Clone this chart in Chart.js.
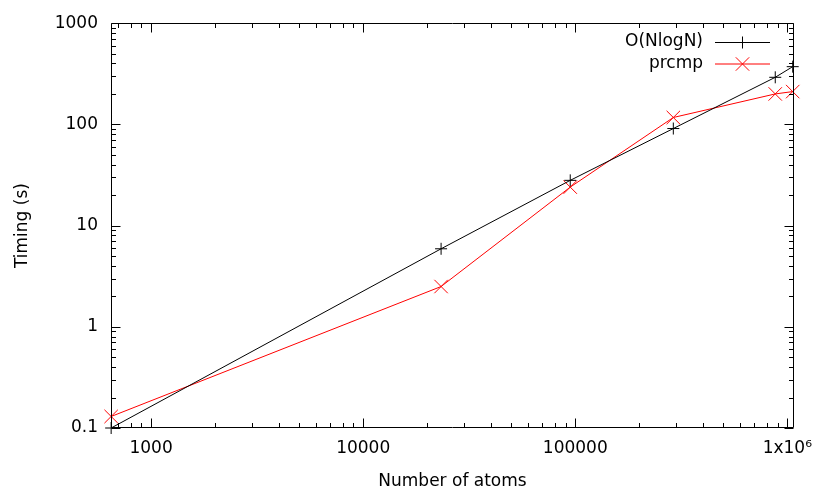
<!DOCTYPE html>
<html>
<head>
<meta charset="utf-8">
<script src="https://cdn.jsdelivr.net/npm/chart.js@4.4.0/dist/chart.umd.min.js"></script>
<style>
body { margin: 0; background: #fff; }
#wrap { width: 830px; height: 498px; }
</style>
</head>
<body>
<div id="wrap"><canvas id="timing"></canvas></div>
<script>
// values (log-log)
const atoms = [648, 23300, 94700, 290000, 877000, 1060000]
const nlogn = [0.1, 5.9, 28, 91, 292, 372]
const prcmp = [0.13, 2.5, 24, 117, 200, 211]
const xTicks = [1000, 10000, 100000, 1000000]
const xTickLabels = ['1000', '10000', '100000', '1x10\u2076']
const yTicks = [0.1, 1, 10, 100, 1000]
const yTickLabels = ['0.1', '1', '10', '100', '1000']
const seriesNames = ['O(NlogN)', 'prcmp']

const FONT = 'DejaVu Sans'

function toPoints(ys){
    return atoms.map(function(a, i){ return {x: a, y: ys[i]} })
}

// gnuplot style box with inward ticks on all four sides
const frameTicks = {
    id: 'frameTicks',
    afterDatasetsDraw(chart){
        const ctx = chart.ctx
        const a = chart.chartArea
        const x = chart.scales.x
        const y = chart.scales.y
        const L = Math.round(a.left) + 0.5
        const R = Math.round(a.right) - 0.5
        const T = Math.round(a.top) + 0.5
        const B = Math.round(a.bottom) - 0.5
        ctx.save()
        ctx.strokeStyle = '#000'
        ctx.lineWidth = 1
        ctx.beginPath()
        ctx.rect(L, T, R - L, B - T)

        function logMarks(scale){
            let out = []
            let lo = Math.floor(Math.log10(scale.min))
            let hi = Math.ceil(Math.log10(scale.max))
            for(let d = lo; d <= hi; d++){
                for(let m = 1; m <= 9; m++){
                    let v = m * Math.pow(10, d)
                    if(v >= scale.min * 0.9999 && v <= scale.max * 1.0001){
                        out.push({v: v, major: m == 1})
                    }
                }
            }
            return out
        }

        logMarks(x).forEach(function(t){
            let px = Math.round(x.getPixelForValue(t.v)) + 0.5
            let len = t.major ? 9 : 4.5
            ctx.moveTo(px, B); ctx.lineTo(px, B - len)
            ctx.moveTo(px, T); ctx.lineTo(px, T + len)
        })
        logMarks(y).forEach(function(t){
            let py = Math.round(y.getPixelForValue(t.v)) + 0.5
            let len = t.major ? 9 : 4.5
            ctx.moveTo(L, py); ctx.lineTo(L + len, py)
            ctx.moveTo(R, py); ctx.lineTo(R - len, py)
        })
        ctx.stroke()
        ctx.restore()
    }
}

// key in the top right corner, text then sample
const keyBox = {
    id: 'keyBox',
    afterDraw(chart){
        const ctx = chart.ctx
        const textRight = 703
        const x0 = 715, x1 = 770
        const rows = [42, 63.5]
        ctx.save()
        ctx.font = '17px "' + FONT + '"'
        ctx.textAlign = 'right'
        ctx.textBaseline = 'middle'
        chart.data.datasets.forEach(function(ds, i){
            let yy = rows[i] + 0.5
            ctx.fillStyle = '#000'
            ctx.fillText(seriesNames[i], textRight, rows[i])
            ctx.strokeStyle = ds.borderColor
            ctx.lineWidth = 1
            ctx.beginPath()
            ctx.moveTo(x0, yy); ctx.lineTo(x1, yy)
            let cx = (x0 + x1) / 2
            if(ds.pointStyle == 'cross'){
                let r = ds.pointRadius
                ctx.moveTo(cx - r, yy); ctx.lineTo(cx + r, yy)
                ctx.moveTo(cx, yy - r); ctx.lineTo(cx, yy + r)
            }
            else {
                let r = ds.pointRadius * Math.SQRT1_2
                ctx.moveTo(cx - r, yy - r); ctx.lineTo(cx + r, yy + r)
                ctx.moveTo(cx - r, yy + r); ctx.lineTo(cx + r, yy - r)
            }
            ctx.stroke()
        })
        ctx.restore()
    }
}

const canvas = document.getElementById('timing')
new Chart(canvas, {
    type: 'line',
    data: {
        datasets: [{
            label: seriesNames[0],
            data: toPoints(nlogn),
            borderColor: '#000000',
            borderWidth: 1,
            pointStyle: 'cross',
            pointRadius: 6,
            pointBorderWidth: 1,
            pointBorderColor: '#000000',
            tension: 0,
            clip: false
        }, {
            label: seriesNames[1],
            data: toPoints(prcmp),
            borderColor: '#ff0000',
            borderWidth: 1,
            pointStyle: 'crossRot',
            pointRadius: 9.5,
            pointBorderWidth: 1,
            pointBorderColor: '#ff0000',
            tension: 0,
            clip: false
        }]
    },
    options: {
        responsive: true,
        maintainAspectRatio: false,
        animation: false,
        layout: { padding: { top: 23, right: 36, left: 0, bottom: 0 } },
        plugins: {
            legend: { display: false },
            tooltip: { enabled: false }
        },
        scales: {
            x: {
                type: 'logarithmic',
                min: 647,
                max: 1075000,
                grid: { display: false, drawTicks: false },
                border: { display: false },
                afterBuildTicks: function(scale){
                    scale.ticks = xTicks.map(function(v){ return {value: v} })
                },
                afterFit: function(scale){ scale.height = 70 },
                ticks: {
                    color: '#000',
                    font: { family: FONT, size: 17 },
                    padding: 10,
                    maxRotation: 0,
                    autoSkip: false,
                    callback: function(v){ return xTickLabels[xTicks.indexOf(v)] }
                },
                title: {
                    display: true,
                    text: 'Number of atoms',
                    color: '#000',
                    font: { family: FONT, size: 17 },
                    padding: { top: 0, bottom: 6 }
                }
            },
            y: {
                type: 'logarithmic',
                min: 0.1,
                max: 1000,
                grid: { display: false, drawTicks: false },
                border: { display: false },
                afterBuildTicks: function(scale){
                    scale.ticks = yTicks.map(function(v){ return {value: v} })
                },
                afterFit: function(scale){ scale.width = 111 },
                ticks: {
                    color: '#000',
                    font: { family: FONT, size: 17 },
                    padding: 13,
                    autoSkip: false,
                    callback: function(v){
                        let i = yTicks.findIndex(function(t){ return Math.abs(t - v) < t * 1e-6 })
                        return yTickLabels[i]
                    }
                },
                title: {
                    display: true,
                    text: 'Timing (s)',
                    color: '#000',
                    font: { family: FONT, size: 17 },
                    padding: { top: 12, bottom: 0 }
                }
            }
        }
    },
    plugins: [frameTicks, keyBox]
})
</script>
</body>
</html>
